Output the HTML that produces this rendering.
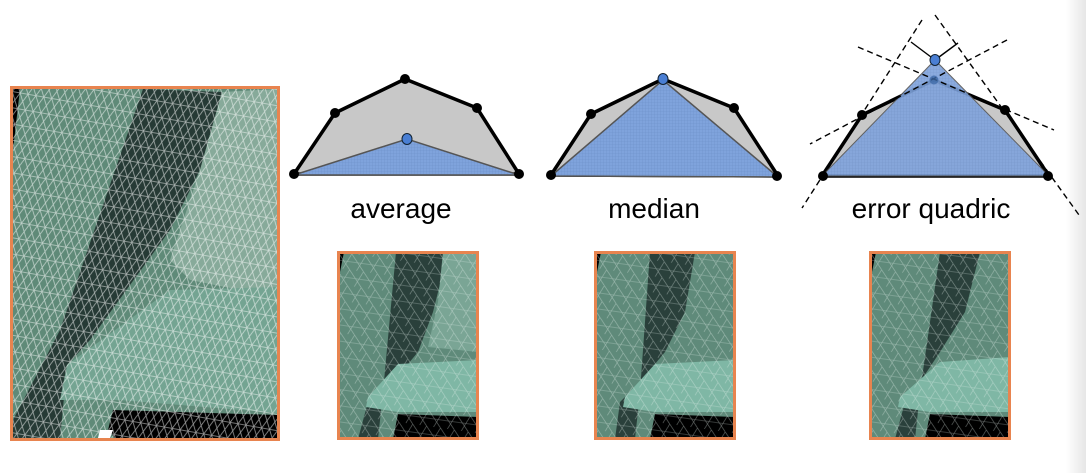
<!DOCTYPE html>
<html><head><meta charset="utf-8"><style>
html,body{margin:0;padding:0;background:#fff;}
body{width:1086px;height:473px;overflow:hidden;position:relative;font-family:"Liberation Sans",sans-serif;}
svg{position:absolute;left:0;top:0;}
</style></head><body>
<svg width="1086" height="473" viewBox="0 0 1086 473">
<defs>
<pattern id="grid" width="3" height="3" patternUnits="userSpaceOnUse">
<rect width="3" height="3" fill="#7fa3dc"/><path d="M0 0H3M0 0V3" stroke="#6d8fc8" stroke-width="0.6"/>
</pattern>
<pattern id="meshBig" width="8" height="16" patternUnits="userSpaceOnUse" patternTransform="rotate(10)">
<path d="M0 0L8 16M8 0L0 16M0 8H8" stroke="#ffffff" stroke-width="0.8" opacity="0.6" fill="none"/>
</pattern>
<pattern id="meshSmall" width="14" height="16" patternUnits="userSpaceOnUse" patternTransform="rotate(8)">
<path d="M0 0L14 16M14 0L7 16M0 8H14" stroke="#e8f2ee" stroke-width="0.6" opacity="0.45" fill="none"/>
</pattern>
<linearGradient id="edge" x1="0" x2="1"><stop offset="0" stop-color="#fff"/><stop offset="1" stop-color="#e6e6e6"/></linearGradient>
</defs>
<rect x="1066" y="0" width="20" height="473" fill="url(#edge)"/>

<g>
<rect x="11" y="87" width="268" height="353" fill="#5f8a78"/>
<polygon points="13,89 20,89 13,150" fill="#000"/>
<polygon points="143,89 222,92 200,170 170,230 90,340 67,365 60,440 13,440 13,420 60,330" fill="#263a35"/>
<polygon points="222,92 277,89 277,300 240,290 190,280 170,260 200,170" fill="#87aa9a"/>
<polygon points="67,365 170,290 277,287 277,413 120,400 60,400" fill="#74a492"/>
<polygon points="113,410 277,415 277,438 115,438 108,430" fill="#000"/>
<polygon points="100,430 113,430 110,438 98,438" fill="#fff"/>
<rect x="11" y="87" width="268" height="353" fill="url(#meshBig)"/>
<rect x="11.5" y="87.5" width="267" height="352" fill="none" stroke="#e8844f" stroke-width="3"/>
</g>

<g transform="translate(338,252)">
<rect width="140" height="187" fill="#5f8a7a"/>
<polygon points="0,0 6,0 0,30" fill="#000"/>
<polygon points="58,0 110,0 95,60 80,100 55,130 30,150 20,187 40,187 45,140" fill="#2a403b"/>
<polygon points="105,0 140,0 140,100 90,95 100,50" fill="#7aa595"/>
<polygon points="30,145 60,112 140,108 140,160 60,160 28,155" fill="#7fb7a5"/>
<polygon points="60,162 140,165 140,187 55,187" fill="#000"/>
<rect width="140" height="187" fill="url(#meshSmall)"/>
<rect x="0.5" y="0.5" width="139" height="186" fill="none" stroke="#e8844f" stroke-width="3"/>
</g>
<g transform="translate(595,252)">
<rect width="140" height="187" fill="#5f8a7a"/>
<polygon points="0,0 6,0 0,30" fill="#000"/>
<polygon points="55,0 100,0 90,60 70,100 45,130 25,150 20,187 40,187 45,140" fill="#2a403b"/>
<polygon points="30,145 60,112 140,108 140,160 60,160 28,155" fill="#7fb7a5"/>
<polygon points="60,162 140,165 140,187 55,187" fill="#000"/>
<rect width="140" height="187" fill="url(#meshSmall)"/>
<rect x="0.5" y="0.5" width="139" height="186" fill="none" stroke="#e8844f" stroke-width="3"/>
</g>
<g transform="translate(870,252)">
<rect width="140" height="187" fill="#5f8a7a"/>
<polygon points="0,0 6,0 0,30" fill="#000"/>
<polygon points="70,0 110,0 95,60 70,100 50,130 35,150 25,187 45,187 50,140" fill="#2a403b"/>
<polygon points="30,145 70,110 140,105 140,160 60,160 28,155" fill="#7fb7a5"/>
<polygon points="60,162 140,165 140,187 55,187" fill="#000"/>
<rect width="140" height="187" fill="url(#meshSmall)"/>
<rect x="0.5" y="0.5" width="139" height="186" fill="none" stroke="#e8844f" stroke-width="3"/>
</g>

<g>
<polygon points="294,174 335,113 405,79 477,108 519,174" fill="#c8c8c8" stroke="#000" stroke-width="3.5" stroke-linejoin="round"/>
<polygon points="294,175 407,139 519,175" fill="url(#grid)" stroke="#555" stroke-width="1.5"/>
<g fill="#000"><circle cx="294" cy="174" r="5"/><circle cx="335" cy="113" r="5"/><circle cx="405" cy="79" r="5"/><circle cx="477" cy="108" r="5"/><circle cx="519" cy="174" r="5"/></g>
<ellipse cx="407" cy="139" rx="5" ry="5.5" fill="#4a7fd4" stroke="#123" stroke-width="1"/>
<text x="401" y="218" font-size="28" text-anchor="middle" fill="#000">average</text>
</g>

<g>
<polygon points="551,175 591,114 663,79 734,108 778,176" fill="#c8c8c8" stroke="#000" stroke-width="3.5" stroke-linejoin="round"/>
<polygon points="551,176 663,80 778,177" fill="url(#grid)" stroke="#555" stroke-width="1.5"/>
<g fill="#000"><circle cx="551" cy="175" r="5"/><circle cx="591" cy="114" r="5"/><circle cx="734" cy="108" r="5"/><circle cx="777" cy="176" r="5"/></g>
<ellipse cx="663" cy="79" rx="5" ry="5.5" fill="#4a7fd4" stroke="#123" stroke-width="1"/>
<text x="654" y="218" font-size="28" text-anchor="middle" fill="#000">median</text>
</g>

<g>
<polygon points="822,176 862,115 934,80 1005,110 1049,176" fill="#c8c8c8" stroke="#000" stroke-width="3.5" stroke-linejoin="round"/>
<polygon points="822,176 935,60 1049,176" fill="url(#grid)" opacity="0.9" stroke="#555" stroke-width="1"/>
<g stroke="#000" stroke-width="1.4" stroke-dasharray="6,4" fill="none">
<line x1="922" y1="20" x2="802" y2="208"/>
<line x1="935" y1="15" x2="1079" y2="215"/>
<line x1="858" y1="47" x2="1054" y2="130"/>
<line x1="1007" y1="40" x2="810" y2="144"/>
</g>
<g stroke="#000" stroke-width="1.4"><line x1="911" y1="42" x2="935" y2="60"/><line x1="958" y1="43" x2="935" y2="60"/></g>
<g fill="#000"><circle cx="823" cy="176" r="5"/><circle cx="862" cy="115" r="5"/><circle cx="1005" cy="110" r="5"/><circle cx="1048" cy="176" r="5"/></g>
<circle cx="934" cy="80" r="4.5" fill="#3e6aa8" opacity="0.8"/>
<ellipse cx="935" cy="60" rx="5" ry="5.5" fill="#4a7fd4" stroke="#123" stroke-width="1"/>
<text x="931" y="218" font-size="28" text-anchor="middle" fill="#000">error quadric</text>
</g>
</svg>
</body></html>
